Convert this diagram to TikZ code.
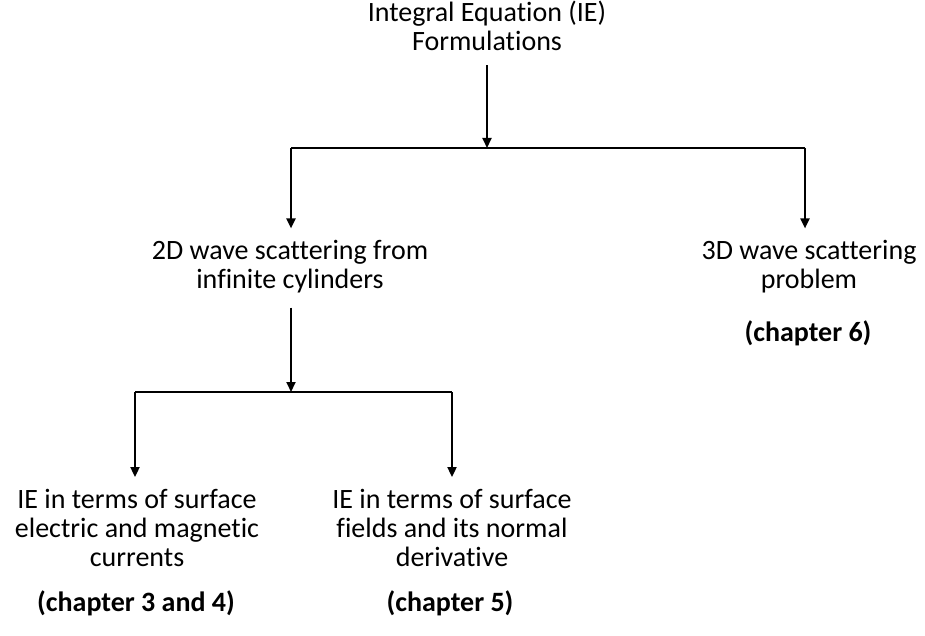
\documentclass[tikz,border=0pt]{standalone}
\usepackage{fontspec}
\setmainfont[Ligatures={NoCommon}]{Carlito}
\usetikzlibrary{arrows.meta,positioning}
\tikzset{
  lbl/.style={align=center,font=\fontsize{28}{29}\selectfont,inner sep=0pt},
  chap/.style={font=\fontsize{28}{29}\selectfont\bfseries,inner sep=0pt},
  conn/.style={line width=2pt},
  arr/.style={conn,-{Triangle[width=9pt,length=10pt]}}
}
\begin{document}
\begin{tikzpicture}[x=1pt,y=-1pt]
\useasboundingbox (0,0) rectangle (925,636);
\coordinate (topmid) at (487,148);\coordinate (topL) at (291,148);\coordinate (topR) at (805,148);
\coordinate (lowmid) at (291,392);\coordinate (lowL) at (135,392);\coordinate (lowR) at (452,392);
\node[lbl] (ie) at (487,26) {Integral Equation (IE)\\Formulations};
\node[lbl] (twoD) at (290,267) {2D wave scattering from\\infinite cylinders};
\node[lbl] (threeD) at (809,267) {3D wave scattering\\problem};
\node[chap] (ch6) at (808,333) {(chapter 6)};
\node[lbl] (ieJM) at (137,528) {IE in terms of surface\\electric and magnetic\\currents};
\node[chap] (ch34) at (136,603) {(chapter 3 and 4)};
\node[lbl] (ieF) at (452,528) {IE in terms of surface\\fields and its normal\\derivative};
\node[chap] (ch5) at (450,603) {(chapter 5)};
\draw[arr,shorten <=14pt] (ie) -- (topmid);
\draw[conn] (topL) -- (topR);
\draw[arr,shorten >=12pt] (topL) -- (topL |- twoD.north);
\draw[arr,shorten >=12pt] (topR) -- (topR |- threeD.north);
\draw[arr,shorten <=14pt] (twoD.south -| lowmid) -- (lowmid);
\draw[conn] (lowL) -- (lowR);
\draw[arr,shorten >=12pt] (lowL) -- (lowL |- ieJM.north);
\draw[arr,shorten >=12pt] (lowR) -- (lowR |- ieF.north);
\end{tikzpicture}
\end{document}
